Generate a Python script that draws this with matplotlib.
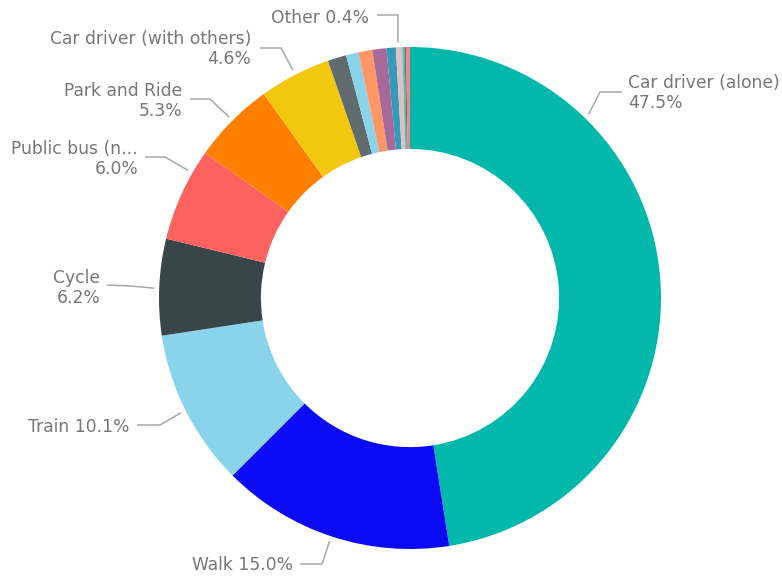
import matplotlib
matplotlib.use('Agg')
import matplotlib.pyplot as plt
import numpy as np

# commute mode shares, clockwise from 12 o'clock
modes = ['Car driver (alone)', 'Walk', 'Train', 'Cycle', 'Public bus (n...',
         'Park and Ride', 'Car driver (with others)', 'Taxi', 'Passenger',
         'Motorcycle', 'Bus (other)', 'Work from home', 'Other',
         'Van', 'Lift', 'Scooter']
shares = [47.5, 15.0, 10.1, 6.2, 6.0, 5.3, 4.6, 1.2, 0.8, 0.9, 0.9, 0.6,
          0.4, 0.15, 0.1, 0.25]
colors = ['#01B8AA', '#0A0AF5', '#8AD4EB', '#374649', '#FD625E', '#FF8000',
          '#F2C80F', '#5F6B6D', '#8AD4EB', '#FE9666', '#A66999', '#3599B8',
          '#DFBFBF', '#4AC5BB', '#5F6B6D', '#FB8281']

W, H = 782, 578
CX, CY, R = 410, 298, 251  # ring centre and outer radius, pixels


def px(x, y):
    """pixel position -> data units of the pie axes"""
    return (x - CX) / R, (CY - y) / R


# label layout: anchor angle on ring, elbow, end of horizontal run, text pos
labels = [
    # idx, anchor_deg, elbow_px, end_px, text_px, ha, two lines
    (0, 45.8, (600, 92), (622, 92), (628, 93), 'left', True),
    (1, -108.3, (322, 564), (300, 564), (293, 565), 'right', False),
    (2, 206.6, (160, 425), (137, 425), (130, 427), 'right', False),
    (3, 177.8, (130, 286), (107, 285), (100, 288), 'right', True),
    (4, 150.1, (165, 157), (145, 157), (138, 159), 'right', True),
    (5, 135.0, (210, 99), (190, 99), (182, 101), 'right', True),
    (6, 117.2, (281, 48), (260, 48), (251, 49), 'right', True),
    (12, 92.7, (398, 15), (377, 15), (369, 18), 'right', False),
]

plt.rcParams['font.family'] = ['DejaVu Sans']

fig = plt.figure(figsize=(W / 100, H / 100), dpi=100)
ax = fig.add_axes([(CX - R) / W, (H - CY - R) / H, 2 * R / W, 2 * R / H])
ax.pie(shares, colors=colors, startangle=90, counterclock=False,
       radius=1.0, wedgeprops=dict(width=0.406, linewidth=0))
ax.set_xlim(-1, 1)
ax.set_ylim(-1, 1)
ax.set_aspect('equal')
ax.axis('off')

line_col = '#A8A8A8'
text_col = '#777777'
for idx, ang, elbow, end, tpos, ha, two in labels:
    a = np.deg2rad(ang)
    x0, y0 = 1.02 * np.cos(a), 1.02 * np.sin(a)
    ex, ey = px(*elbow)
    hx, hy = px(*end)
    ax.plot([x0, ex, hx], [y0, ey, hy], color=line_col, lw=1.1,
            clip_on=False, solid_capstyle='butt')
    pct = f'{shares[idx]:.1f}%'
    txt = f'{modes[idx]}\n{pct}' if two else f'{modes[idx]} {pct}'
    tx, ty = px(*tpos)
    ax.text(tx, ty, txt, ha=ha, va='center', multialignment=ha,
            fontsize=12.3, color=text_col, linespacing=1.1, clip_on=False)

fig.savefig('out.png', dpi=100)
